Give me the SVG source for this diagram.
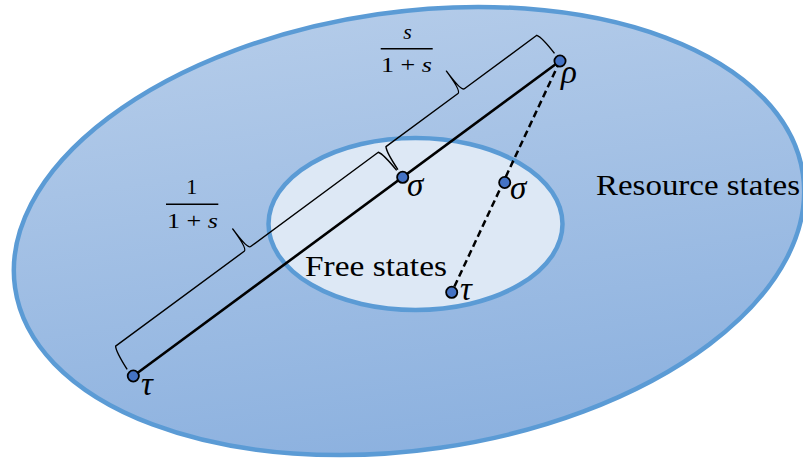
<svg xmlns="http://www.w3.org/2000/svg" width="803" height="459" viewBox="0 0 803 459">
  <defs>
    <linearGradient id="outerGrad" gradientUnits="userSpaceOnUse" x1="0" y1="8" x2="0" y2="455">
      <stop offset="0" stop-color="#b3cbe9"/>
      <stop offset="1" stop-color="#8cb1df"/>
    </linearGradient>
    <style>
      .region { stroke: #5b9bd5; stroke-width: 4.5; }
      .pt { fill: #4472c4; stroke: #000; stroke-width: 1.8; }
      text { font-family: 'Liberation Serif', 'DejaVu Serif', serif; fill: #000; }
      .greek { font-style: italic; font-size: 33px; }
      .frac { font-size: 22px; }
      .brace { fill: none; stroke: #000; stroke-width: 1.4; stroke-linejoin: round; }
      .bar { stroke: #000; stroke-width: 1.4; }
    </style>
  </defs>

  <g id="resource-states">
    <ellipse class="region" cx="409" cy="231" rx="398" ry="219" transform="rotate(-8.2 409 231)" fill="url(#outerGrad)"/>
    <text x="596" y="195" font-family="Liberation Serif, serif" font-size="29" textLength="204" lengthAdjust="spacingAndGlyphs">Resource states</text>
  </g>

  <g id="free-states">
    <ellipse class="region" cx="415.5" cy="224" rx="147" ry="86" fill="#dde8f5"/>
    <text x="305" y="276" font-family="Liberation Serif, serif" font-size="29" textLength="142" lengthAdjust="spacingAndGlyphs">Free states</text>
  </g>

  <g id="connectors">
    <line x1="133.3" y1="376" x2="560" y2="61" stroke="#000" stroke-width="2.6"/>
    <line x1="560" y1="61" x2="451.7" y2="292.3" stroke="#000" stroke-width="2.5" stroke-dasharray="7 4"/>
  </g>

  <g id="brace-tau-sigma">
    <path class="brace" transform="translate(133.3 376) rotate(-36.43)" d="M-1,-9 Q0.5,-30 3.5,-34.5 L163.3,-34.5 Q167.3,-34.5 167.3,-59.3 Q167.3,-34.5 171.3,-34.5 L330,-34.5 Q333,-30 334,-9"/>
    <text class="frac" x="191.7" y="194" text-anchor="middle" font-family="Liberation Serif, serif">1</text>
    <line class="bar" x1="166" y1="204.3" x2="218.3" y2="204.3"/>
    <text class="frac" x="167" y="228" font-family="Liberation Serif, serif" textLength="51" lengthAdjust="spacingAndGlyphs">1 + <tspan font-style="italic">s</tspan></text>
  </g>

  <g id="brace-sigma-rho">
    <path class="brace" transform="translate(133.3 376) rotate(-36.43)" d="M335.5,-9 Q336.5,-30 339.5,-34.5 L429,-34.5 Q433,-34.5 433,-59.3 Q433,-34.5 437,-34.5 L527,-34.5 Q530,-30 530.5,-9.5"/>
    <text class="frac" x="407.5" y="39" text-anchor="middle" font-style="italic" font-family="Liberation Serif, serif">s</text>
    <line class="bar" x1="380.7" y1="48.7" x2="432.7" y2="48.7"/>
    <text class="frac" x="381" y="72" font-family="Liberation Serif, serif" textLength="51" lengthAdjust="spacingAndGlyphs">1 + <tspan font-style="italic">s</tspan></text>
  </g>

  <g id="rho">
    <circle class="pt" cx="560" cy="61" r="5.6"/>
    <text class="greek" x="561" y="83" font-family="Liberation Serif, serif">ρ</text>
  </g>
  <g id="sigma1">
    <circle class="pt" cx="402.7" cy="177.3" r="5.6"/>
    <text class="greek" x="407" y="196" font-family="Liberation Serif, serif">σ</text>
  </g>
  <g id="tau1">
    <circle class="pt" cx="133.3" cy="376" r="5.6"/>
    <text class="greek" x="141" y="395" font-family="Liberation Serif, serif">τ</text>
  </g>
  <g id="sigma2">
    <circle class="pt" cx="504.7" cy="182.5" r="5.6"/>
    <text class="greek" x="510" y="199" font-family="Liberation Serif, serif">σ</text>
  </g>
  <g id="tau2">
    <circle class="pt" cx="451.7" cy="292.3" r="5.6"/>
    <text class="greek" x="460" y="300" font-family="Liberation Serif, serif">τ</text>
  </g>
</svg>
